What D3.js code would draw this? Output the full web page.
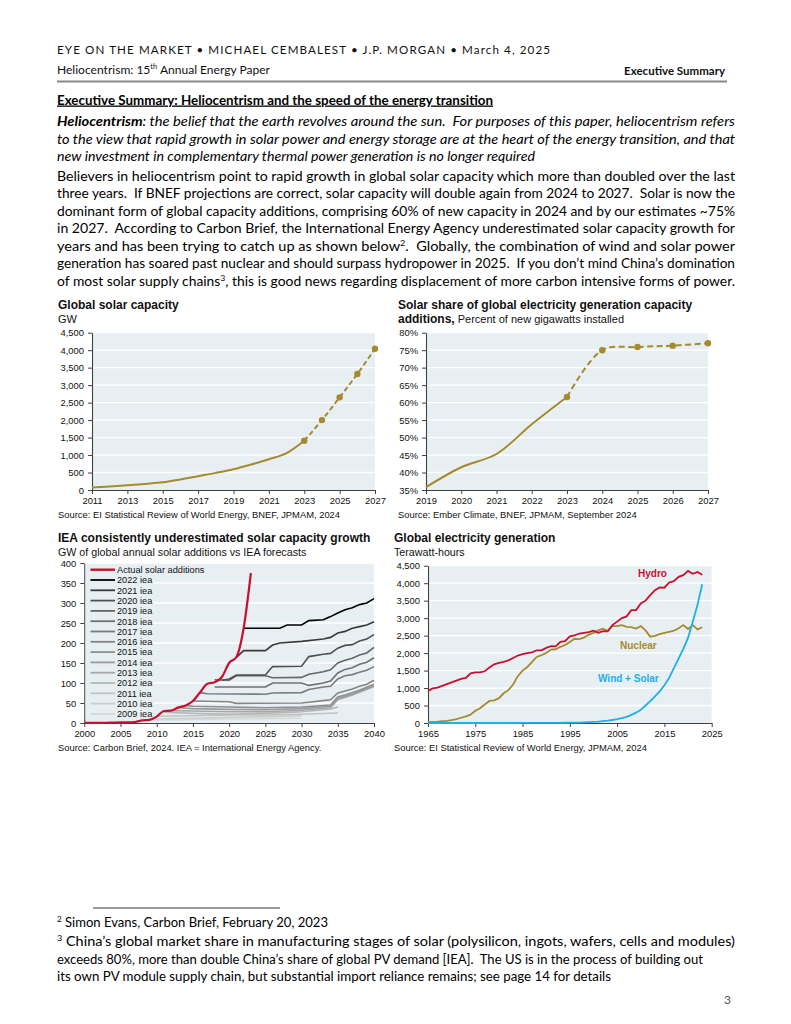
<!DOCTYPE html>
<html><head><meta charset="utf-8">
<script src="https://cdn.jsdelivr.net/npm/d3@7"></script>
<style>
body{margin:0;background:#fff;}
svg text{white-space:pre;}
</style></head><body>
<svg id="page" width="791" height="1024"></svg>
<script>
// ---------------- DATA ----------------
// Chart 1: Global solar capacity (GW)
const capYears  = [2011,2012,2013,2014,2015,2016,2017,2018,2019,2020,2021,2022,2023,2024,2025,2026,2027];
const capValues = [70,100,135,175,220,300,395,490,595,730,880,1055,1410,2000,2650,3320,4040];
const capProjFrom = 2023;

// Chart 2: Solar share of capacity additions (%)
const shareYears  = [2019,2020,2021,2022,2023,2024,2025,2026,2027];
const shareValues = [35.8,41.5,45.3,53.8,61.6,75.0,75.9,76.3,77.0];
const shareProjFrom = 2023;

// Chart 3: actual solar additions (GW)
const actualYears  = [2000,2001,2002,2003,2004,2005,2006,2007,2008,2009,2010,2011,2012,2013,2014,2015,2016,2017,2018,2019,2020,2021,2022,2023];
const actualValues = [0.3,0.3,0.5,0.6,1.1,1.4,1.6,2.5,6.5,8,16,30,31,39,44,55,77,98,102,115,150,165,237,375];
// IEA forecasts: years / values per vintage
const ieaNames = ["2022 iea","2021 iea","2020 iea","2019 iea","2018 iea","2017 iea","2016 iea","2015 iea","2014 iea","2013 iea","2012 iea","2011 iea","2010 iea","2009 iea"];
const ieaYears = [
  [2022,2027,2028,2030,2031,2033,2034,2035,2036,2037,2038,2039,2040],
  [2021,2022,2025,2026,2027,2030,2033,2034,2035,2036,2037,2038,2039,2040],
  [2019,2020,2021,2025,2026,2030,2031,2033,2034,2035,2036,2037,2038,2039,2040],
  [2018,2020,2021,2025,2026,2030,2031,2033,2034,2035,2036,2037,2038,2039,2040],
  [2018,2025,2026,2030,2031,2033,2034,2035,2036,2037,2038,2039,2040],
  [2016,2017,2025,2026,2030,2031,2033,2034,2035,2036,2037,2038,2039,2040],
  [2015,2020,2021,2030,2031,2033,2034,2035,2036,2037,2038,2039,2040],
  [2014,2015,2020,2025,2030,2034,2035,2036,2038,2040],
  [2013,2015,2020,2025,2030,2034,2035,2037,2040],
  [2012,2015,2020,2025,2030,2034,2035,2037,2040],
  [2011,2015,2020,2025,2030,2034,2035],
  [2010,2015,2020,2025,2030,2035],
  [2009,2015,2020,2025,2030],
  [2008,2015,2020,2025,2030]
];
const ieaValues = [
  [237,237,245,245,256,258,266,275,283,288,296,300,311],
  [164,181,181,195,200,204,210,214,225,229,237,241,245,253],
  [107,110,120,120,141,142,166,172,174,187,194,196,205,210,221],
  [108,107,118,118,113,114,122,128,133,150,157,162,170,175,189],
  [90,90,100,100,94,100,105,125,134,138,147,152,163],
  [76,73,72,75,76,84,90,92,110,118,121,127,132,141],
  [55,53,49,50,52,56,58,75,80,85,92,97,107],
  [44,42,40,38,40,45,65,70,82,97],
  [38,36,34,33,36,42,62,72,93],
  [31,30,28,28,32,38,58,70,91],
  [27,24,22,24,28,35,40],
  [17,18,20,20,22,25],
  [10,12,14,16,18],
  [7,9,10,11,12]
];
const ieaColors = ["#000000","#3a3a3a","#505050","#666666","#707070","#7b7b7b","#858585","#8f8f8f","#9b9b9b","#a8a8a8","#b6b6b6","#c3c3c3","#cecece","#d8d8d8"];

// Chart 4: global electricity generation (TWh), 1965-2023
const genYears = d3.range(1965, 2024);
const hydroValues = [920,990,1010,1060,1110,1160,1210,1260,1290,1420,1450,1450,1480,1590,1680,1720,1750,1790,1860,1930,1970,2000,2020,2080,2080,2150,2200,2190,2320,2340,2480,2510,2560,2580,2600,2640,2580,2630,2620,2800,2900,3000,3050,3230,3230,3420,3500,3660,3800,3880,3870,4020,4060,4180,4230,4350,4270,4320,4240];
const nuclearValues = [25,35,40,50,60,80,110,150,190,240,350,420,530,630,650,710,850,940,1100,1340,1500,1600,1750,1890,1940,2000,2100,2110,2180,2230,2320,2410,2400,2440,2530,2580,2650,2700,2640,2770,2770,2800,2750,2740,2700,2770,2650,2470,2490,2540,2580,2610,2640,2710,2800,2690,2800,2680,2740];
const windSolarValues = [0,0,0,0,0,0,0,0,0,0,0,0,0,0,0,0,0,0,0,0,1,1,1,2,3,4,4,5,6,7,8,10,13,18,24,32,38,53,65,86,108,138,178,232,295,377,500,625,765,905,1080,1290,1570,1840,2120,2440,2900,3380,3970];

// ---------------- STYLE ----------------
const BODY = "Lato, 'Open Sans', sans-serif";
const SANS = "'Liberation Sans', Arial, sans-serif";
const PLOT_BG = "#e7eff2";
const AXIS = "#404040";
const GOLD = "#a68a2e";
const RED = "#c8102e";
const BLUE = "#1eb0e8";

const svg = d3.select('#page');
svg.append('rect').attr('width',791).attr('height',1024).attr('fill','#fff');

function para(x, y, parts, o = {}) {
  const size = o.size || 13;
  const t = svg.append('text').attr('x', x).attr('y', y)
    .attr('font-family', o.family || BODY).attr('font-size', size).attr('fill', o.fill || '#000');
  if (o.anchor) t.attr('text-anchor', o.anchor);
  if (o.weight) t.attr('font-weight', o.weight);
  if (o.italic) t.attr('font-style', 'italic');
  if (o.underline) t.attr('text-decoration', 'underline');
  let shift = 0;
  parts.forEach(p => {
    if (typeof p === 'string') p = {t: p};
    const s = t.append('tspan').text(p.t);
    const want = p.sup ? -size * 0.38 : 0;
    if (want !== shift) { s.attr('dy', want - shift); shift = want; }
    if (p.sup) s.attr('font-size', size * 0.62);
    if (p.b) s.attr('font-weight', 'bold');
    if (p.i) s.attr('font-style', 'italic');
    if (p.n) s.attr('font-weight', 'normal');
  });
  if (o.width) t.attr('textLength', o.width).attr('lengthAdjust', o.adjust || 'spacingAndGlyphs');
  return t;
}

// ---------------- HEADER ----------------
para(57, 53.5, ["EYE ON THE MARKET \u2022 MICHAEL CEMBALEST \u2022 J.P. MORGAN \u2022 March 4, 2025"], {size: 11.6, width: 493, adjust: 'spacing', fill: '#111'});
para(57, 73.5, ["Heliocentrism: 15", {t: "th", sup: true}, " Annual Energy Paper"], {size: 11.5, width: 213, fill: '#111'});
para(725, 75, ["Executive Summary"], {size: 11.5, weight: 'bold', anchor: 'end', fill: '#111'});
svg.append('line').attr('x1', 57).attr('x2', 727).attr('y1', 81.5).attr('y2', 81.5).attr('stroke', '#8a8a8a').attr('stroke-width', 2.2);

// ---------------- BODY TEXT ----------------
para(57, 104.5, ["Executive Summary: Heliocentrism and the speed of the energy transition"], {size: 13, weight: 'bold', underline: true, width: 436});
para(57, 126, [{t: "Heliocentrism", b: true}, ": the belief that the earth revolves around the sun.  For purposes of this paper, heliocentrism refers"], {size: 13, italic: true, width: 678});
para(57, 143.5, ["to the view that rapid growth in solar power and energy storage are at the heart of the energy transition, and that"], {size: 13, italic: true, width: 678});
para(57, 161, ["new investment in complementary thermal power generation is no longer required"], {size: 13, italic: true, width: 478});
const bodyLines = [
  ["Believers in heliocentrism point to rapid growth in global solar capacity which more than doubled over the last"],
  ["three years.  If BNEF projections are correct, solar capacity will double again from 2024 to 2027.  Solar is now the"],
  ["dominant form of global capacity additions, comprising 60% of new capacity in 2024 and by our estimates ~75%"],
  ["in 2027.  According to Carbon Brief, the International Energy Agency underestimated solar capacity growth for"],
  ["years and has been trying to catch up as shown below", {t: "2", sup: true}, ".  Globally, the combination of wind and solar power"],
  ["generation has soared past nuclear and should surpass hydropower in 2025.  If you don\u2019t mind China\u2019s domination"],
  ["of most solar supply chains", {t: "3", sup: true}, ", this is good news regarding displacement of more carbon intensive forms of power."]
];
bodyLines.forEach((l, i) => para(57, 180.5 + i * 17.5, l, {size: 13, width: 678}));

// ---------------- CHART HELPERS ----------------
function frame(c) {
  const g = svg.append('g');
  const x = d3.scaleLinear().domain(c.xd).range([c.l, c.r]);
  const y = d3.scaleLinear().domain(c.yd).range([c.b, c.t]);
  g.append('rect').attr('x', c.l).attr('y', c.t).attr('width', c.r - c.l).attr('height', c.b - c.t).attr('fill', PLOT_BG);
  g.selectAll('line.grid').data(c.yTicks.filter(v => v !== c.yd[0])).join('line').attr('class', 'grid')
    .attr('x1', c.l).attr('x2', c.r).attr('y1', d => y(d)).attr('y2', d => y(d))
    .attr('stroke', '#fff').attr('stroke-width', 1.3);
  const ya = g.append('g').attr('transform', `translate(${c.l},0)`)
    .call(d3.axisLeft(y).tickValues(c.yTicks).tickFormat(c.yFmt).tickSize(4).tickSizeOuter(0).tickPadding(4));
  const xa = g.append('g').attr('transform', `translate(0,${c.b})`)
    .call(d3.axisBottom(x).tickValues(c.xTicks).tickFormat(d3.format('d')).tickSize(4).tickSizeOuter(0).tickPadding(3));
  [ya, xa].forEach(a => {
    a.select('.domain').attr('stroke', AXIS).attr('stroke-width', 1.1);
    a.selectAll('.tick line').attr('stroke', AXIS);
    a.selectAll('.tick text').attr('font-family', SANS).attr('font-size', 9.4).attr('fill', '#111');
  });
  const top = svg.append('g');
  return {g: top, x, y};
}

// ---------------- CHART 1 ----------------
{
  para(58, 309.3, ["Global solar capacity"], {family: SANS, size: 12, weight: 'bold', fill: '#111'});
  para(58, 323, ["GW"], {family: SANS, size: 11, fill: '#111'});
  const c = frame({l: 92, r: 375, t: 332.7, b: 490, xd: [2011, 2027], yd: [0, 4500],
    xTicks: d3.range(2011, 2028, 2), yTicks: d3.range(0, 4501, 500), yFmt: d3.format(',')});
  const pts = capYears.map((yr, i) => [yr, capValues[i]]);
  const line = d3.line().x(d => c.x(d[0])).y(d => c.y(d[1])).curve(d3.curveMonotoneX);
  c.g.append('path').attr('d', line(pts.filter(d => d[0] <= capProjFrom))).attr('fill', 'none').attr('stroke', GOLD).attr('stroke-width', 2);
  c.g.append('path').attr('d', line(pts.filter(d => d[0] >= capProjFrom))).attr('fill', 'none').attr('stroke', GOLD).attr('stroke-width', 2).attr('stroke-dasharray', '5,3');
  c.g.selectAll('circle').data(pts.filter(d => d[0] >= capProjFrom)).join('circle')
    .attr('cx', d => c.x(d[0])).attr('cy', d => c.y(d[1])).attr('r', 3.2).attr('fill', GOLD);
  para(58, 518.3, ["Source: EI Statistical Review of World Energy, BNEF, JPMAM, 2024"], {family: SANS, size: 9.4, fill: '#111'});
}

// ---------------- CHART 2 ----------------
{
  para(398, 309.3, ["Solar share of global electricity generation capacity"], {family: SANS, size: 12, weight: 'bold', fill: '#111'});
  para(398, 323, [{t: "additions,", b: true}, {t: " Percent of new gigawatts installed", n: true}], {family: SANS, size: 11, fill: '#111'})
    .select('tspan').attr('font-size', 12);
  const c = frame({l: 426, r: 708, t: 332.7, b: 490, xd: [2019, 2027], yd: [35, 80],
    xTicks: d3.range(2019, 2028, 1), yTicks: d3.range(35, 81, 5), yFmt: d => d + '%'});
  const pts = shareYears.map((yr, i) => [yr, shareValues[i]]);
  const line = d3.line().x(d => c.x(d[0])).y(d => c.y(d[1])).curve(d3.curveCatmullRom.alpha(0.5));
  c.g.append('path').attr('d', line(pts.filter(d => d[0] <= shareProjFrom))).attr('fill', 'none').attr('stroke', GOLD).attr('stroke-width', 2);
  c.g.append('path').attr('d', line(pts.filter(d => d[0] >= shareProjFrom))).attr('fill', 'none').attr('stroke', GOLD).attr('stroke-width', 2).attr('stroke-dasharray', '6,3.5');
  c.g.selectAll('circle').data(pts.filter(d => d[0] >= shareProjFrom)).join('circle')
    .attr('cx', d => c.x(d[0])).attr('cy', d => c.y(d[1])).attr('r', 3.2).attr('fill', GOLD);
  para(398, 518.3, ["Source: Ember Climate, BNEF, JPMAM, September 2024"], {family: SANS, size: 9.4, fill: '#111'});
}

// ---------------- CHART 3 ----------------
{
  para(58, 542.3, ["IEA consistently underestimated solar capacity growth"], {family: SANS, size: 12, weight: 'bold', fill: '#111'});
  para(58, 556, ["GW of global annual solar additions vs IEA forecasts"], {family: SANS, size: 10.7, fill: '#111'});
  const c = frame({l: 84.3, r: 374, t: 563, b: 723, xd: [2000, 2040], yd: [0, 400],
    xTicks: d3.range(2000, 2041, 5), yTicks: d3.range(0, 401, 50), yFmt: d3.format('d')});
  c.g.append('rect').attr('x', 85.5).attr('y', 564).attr('width', 68).attr('height', 155).attr('fill', PLOT_BG);
  const lineL = d3.line().x(d => c.x(d[0])).y(d => c.y(d[1]));
  for (let k = ieaNames.length - 1; k >= 0; k--) {
    const pts = ieaYears[k].map((yr, i) => [yr, ieaValues[k][i]]);
    c.g.append('path').attr('d', lineL(pts)).attr('fill', 'none').attr('stroke', ieaColors[k]).attr('stroke-width', 1.6);
  }
  const apts = actualYears.map((yr, i) => [yr, actualValues[i]]);
  c.g.append('path').attr('d', lineL.curve(d3.curveMonotoneX)(apts)).attr('fill', 'none').attr('stroke', RED).attr('stroke-width', 2.2);
  const legNames = ["Actual solar additions"].concat(ieaNames);
  const legColors = [RED].concat(ieaColors);
  legNames.forEach((n, i) => {
    const yy = 569.7 + i * 10.3;
    c.g.append('line').attr('x1', 90.5).attr('x2', 115).attr('y1', yy).attr('y2', yy)
      .attr('stroke', legColors[i]).attr('stroke-width', i === 0 ? 2.4 : 1.8);
    c.g.append('text').attr('x', 117).attr('y', yy + 3.3).attr('font-family', SANS).attr('font-size', 9.2).attr('fill', '#111').text(n);
  });
  para(58, 751.3, ["Source: Carbon Brief, 2024. IEA = International Energy Agency."], {family: SANS, size: 9.4, fill: '#111'});
}

// ---------------- CHART 4 ----------------
{
  para(394, 542.3, ["Global electricity generation"], {family: SANS, size: 12, weight: 'bold', fill: '#111'});
  para(394, 556, ["Terawatt-hours"], {family: SANS, size: 10.7, fill: '#111'});
  const c = frame({l: 428, r: 711.7, t: 565.7, b: 723, xd: [1965, 2025], yd: [0, 4500],
    xTicks: d3.range(1965, 2026, 10), yTicks: d3.range(0, 4501, 500), yFmt: d3.format(',')});
  const line = d3.line().x(d => c.x(d[0])).y(d => c.y(d[1]));
  [[nuclearValues, GOLD], [hydroValues, RED], [windSolarValues, BLUE]].forEach(([vals, col]) => {
    c.g.append('path').attr('d', line(genYears.map((yr, i) => [yr, vals[i]]))).attr('fill', 'none').attr('stroke', col).attr('stroke-width', 1.8);
  });
  c.g.append('text').attr('x', 638).attr('y', 577).attr('font-family', SANS).attr('font-size', 10).attr('font-weight', 'bold').attr('fill', RED).text('Hydro');
  c.g.append('text').attr('x', 620).attr('y', 648.5).attr('font-family', SANS).attr('font-size', 10).attr('font-weight', 'bold').attr('fill', GOLD).text('Nuclear');
  c.g.append('text').attr('x', 598).attr('y', 682).attr('font-family', SANS).attr('font-size', 10).attr('font-weight', 'bold').attr('fill', BLUE).text('Wind + Solar');
  para(394, 751.3, ["Source: EI Statistical Review of World Energy, JPMAM, 2024"], {family: SANS, size: 9.4, fill: '#111'});
}

// ---------------- FOOTNOTES ----------------
svg.append('line').attr('x1', 93).attr('x2', 280).attr('y1', 908).attr('y2', 908).attr('stroke', '#000').attr('stroke-width', 0.8);
para(57, 927, [{t: "2", sup: true}, " Simon Evans, Carbon Brief, February 20, 2023"], {size: 12.5, width: 271});
para(57, 946, [{t: "3", sup: true}, " China\u2019s global market share in manufacturing stages of solar (polysilicon, ingots, wafers, cells and modules)"], {size: 12.5, width: 678});
para(57, 963.5, ["exceeds 80%, more than double China\u2019s share of global PV demand [IEA].  The US is in the process of building out"], {size: 12.5, width: 646});
para(57, 981, ["its own PV module supply chain, but substantial import reliance remains; see page 14 for details"], {size: 12.5, width: 554});
para(731, 1004, ["3"], {size: 12, anchor: 'end', fill: '#555'});
</script>
</body></html>
